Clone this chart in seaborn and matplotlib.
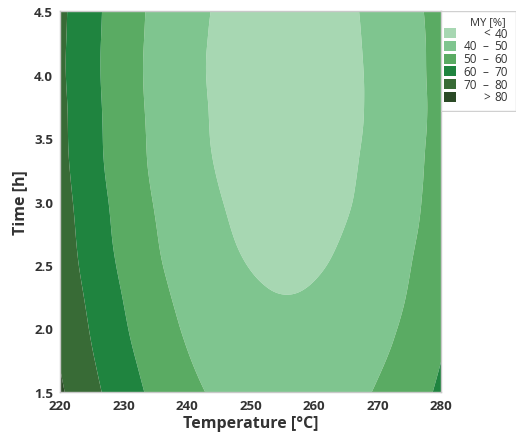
import numpy as np
import seaborn as sns
import matplotlib.pyplot as plt
import matplotlib.tri as mtri
from matplotlib.patches import Rectangle

# MY [%]: rows = time, columns = temperature
temperature = [220, 225, 230, 235, 240, 245, 250, 255, 260, 265, 270, 275, 280]
time_h = [1.5, 1.75, 2.0, 2.25, 2.5, 2.75, 3.0, 3.25, 3.5, 3.75, 4.0, 4.25, 4.5]
my_grid = [
    [81.3, 72.6, 64.6, 57.8, 52.4, 48.5, 46.0, 45.0, 45.5, 47.4, 50.7, 55.5, 61.7],
    [79.6, 70.8, 62.8, 56.0, 50.6, 46.7, 44.2, 43.2, 43.6, 45.5, 48.9, 53.6, 59.9],
    [78.2, 69.2, 61.1, 54.3, 49.0, 45.1, 42.6, 41.6, 42.0, 43.9, 47.2, 52.0, 58.2],
    [76.9, 67.8, 59.7, 52.9, 47.5, 43.6, 41.1, 40.1, 40.6, 42.5, 45.8, 50.6, 56.8],
    [75.6, 66.3, 58.2, 51.4, 46.1, 42.2, 39.8, 38.9, 39.4, 41.3, 44.7, 49.6, 55.8],
    [74.7, 65.3, 57.1, 50.4, 45.1, 41.2, 38.8, 37.8, 38.3, 40.3, 43.7, 48.5, 54.8],
    [73.9, 64.5, 56.3, 49.5, 44.2, 40.4, 38.0, 37.0, 37.5, 39.4, 42.8, 47.7, 54.0],
    [73.0, 63.5, 55.3, 48.6, 43.4, 39.6, 37.2, 36.3, 36.9, 38.9, 42.3, 47.2, 53.6],
    [72.5, 63.0, 54.9, 48.2, 42.9, 39.1, 36.8, 35.9, 36.4, 38.4, 41.9, 46.8, 53.1],
    [72.3, 62.8, 54.6, 47.9, 42.7, 38.9, 36.5, 35.6, 36.2, 38.2, 41.6, 46.5, 52.9],
    [71.8, 62.4, 54.3, 47.6, 42.4, 38.7, 36.4, 35.6, 36.2, 38.2, 41.7, 46.7, 53.1],
    [71.9, 62.5, 54.4, 47.8, 42.6, 38.8, 36.5, 35.7, 36.3, 38.4, 41.9, 46.8, 53.2],
    [72.2, 62.8, 54.7, 48.1, 42.9, 39.2, 36.9, 36.0, 36.6, 38.7, 42.2, 47.2, 53.6],
]
levels = [0, 40, 50, 60, 70, 80, 100]
level_labels = [("", "<", "40"), ("40", "\u2013", "50"), ("50", "\u2013", "60"),
                ("60", "\u2013", "70"), ("70", "\u2013", "80"), ("", ">", "80")]
greens = sns.color_palette(["#a7d7b2", "#7fc58f", "#5aab63", "#1f843f", "#386b36", "#2b4a26"])

sns.set_theme(style="white")
plt.rcParams['font.family'] = ['Open Sans', 'DejaVu Sans']

fig = plt.figure(figsize=(5.16, 4.39), dpi=100)
ax = fig.add_axes([60/516, 46/439, 381/516, 381/439])

# smooth contour surface through the read grid (matplotlib's tri refiner)
tt, hh = np.meshgrid(temperature, time_h)
tri = mtri.Triangulation(tt.ravel(), hh.ravel())
z = np.array(my_grid).ravel()
refiner = mtri.UniformTriRefiner(tri)
tri_f, z_f = refiner.refine_field(z, triinterpolator=mtri.CubicTriInterpolator(tri, z), subdiv=4)
ax.tricontourf(tri_f, z_f, levels=levels, colors=greens, antialiased=True)

ax.set_xlim(220, 280)
ax.set_ylim(1.5, 4.5)
ax.set_xticks([220, 230, 240, 250, 260, 270, 280])
ax.set_yticks([1.5, 2.0, 2.5, 3.0, 3.5, 4.0, 4.5])
ax.set_yticklabels(["1.5", "2.0", "2.5", "3.0", "3.5", "4.0", "4.5"])
ax.tick_params(axis='both', length=3, width=0.8, color="#b5b5b5", pad=2,
               labelsize=9.5, labelcolor="#333333")
for lab in ax.get_xticklabels() + ax.get_yticklabels():
    lab.set_fontweight('bold')
for sp in ax.spines.values():
    sp.set_color("#c8c8c8")
    sp.set_linewidth(1.0)
ax.set_xlabel("Temperature [\u00b0C]", fontsize=11.5, fontweight='bold', color="#333333", labelpad=2)
ax.set_ylabel("Time [h]", fontsize=11.5, fontweight='bold', color="#333333", labelpad=4)

# legend box on the right
lax = fig.add_axes([441/516, (439-113)/439, 75/516, 101/439])
lax.set_xlim(0, 75)
lax.set_ylim(101, 0)
lax.axis('off')
lax.add_patch(Rectangle((0, 0), 74.5, 100, facecolor="white", edgecolor="#d0d0d0", lw=1.0))
lax.text(47, 11, "MY [%]", ha='center', va='center', fontsize=8, color="#333333")
for i, (lo, sym, hi) in enumerate(level_labels):
    y = 22 + i * 12.8
    lax.add_patch(Rectangle((3, y - 5), 12, 10, facecolor=greens[i], edgecolor='none'))
    if lo:
        lax.text(36, y, lo, ha='right', va='center', fontsize=8.5, color="#333333")
        lax.text(44, y, sym, ha='center', va='center', fontsize=8.5, color="#333333")
    else:
        lax.text(46, y + 0.5, sym, ha='center', va='center', fontsize=8.5, color="#333333")
    lax.text(67, y, hi, ha='right', va='center', fontsize=8.5, color="#333333")

fig.savefig("out.png", dpi=100)
